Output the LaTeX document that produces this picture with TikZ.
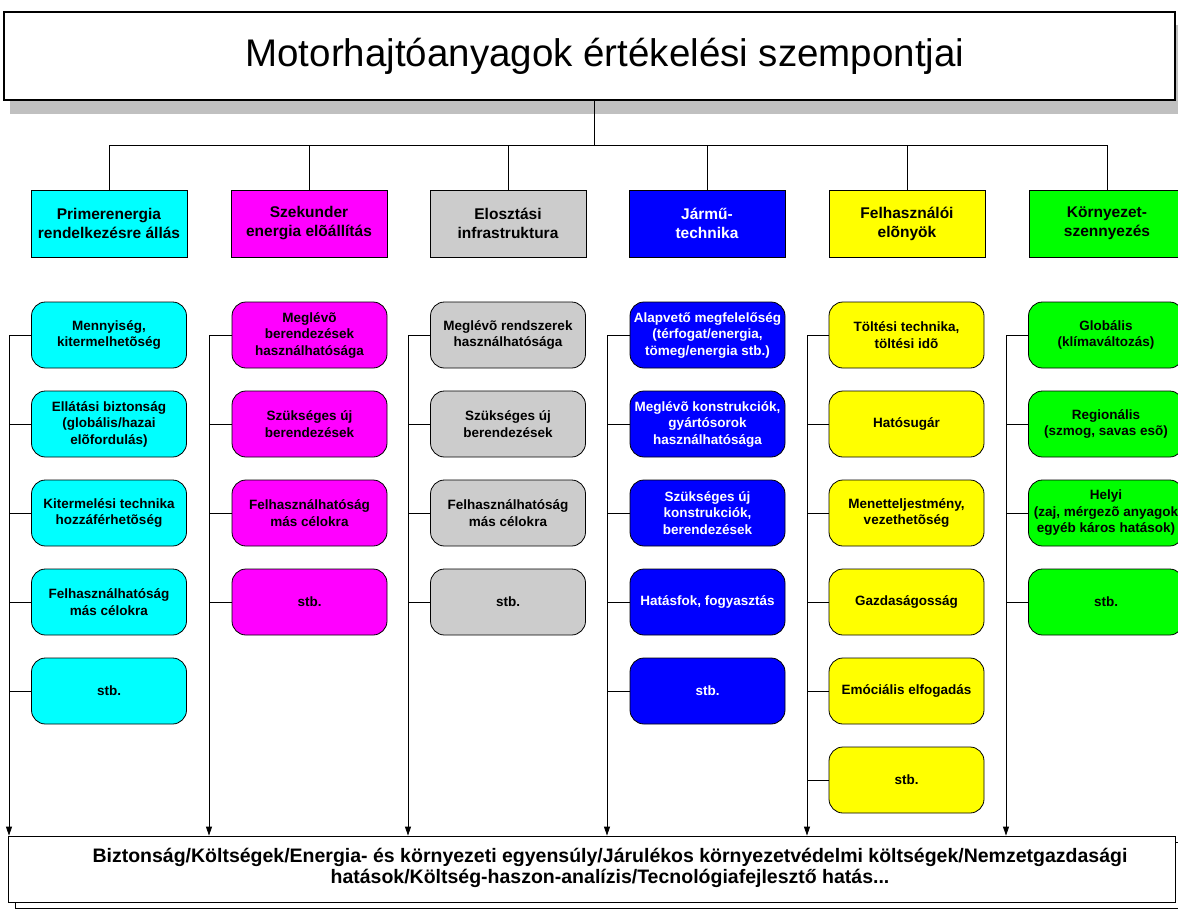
\documentclass[tikz,border=0pt]{standalone}
\usepackage{fontspec}
\setmainfont{Liberation Sans}
\usetikzlibrary{arrows.meta}
\definecolor{cCyan}{HTML}{00FFFF}
\definecolor{cMag}{HTML}{FF00FF}
\definecolor{cGray}{HTML}{CCCCCC}
\definecolor{cBlue}{HTML}{0000FF}
\definecolor{cYel}{HTML}{FFFF00}
\definecolor{cGreen}{HTML}{00FF00}
\definecolor{cShadow}{HTML}{C0C0C0}
\begin{document}
\begin{tikzpicture}[x=1pt,y=-1pt,
  catbox/.style={draw=black, line width=0.8pt, minimum width=156pt, minimum height=67pt, inner sep=0pt, align=center, font=\fontsize{15.5}{19}\selectfont\bfseries},
  subbox/.style={draw=black, line width=0.8pt, rounded corners=14pt, minimum width=155pt, minimum height=66pt, inner sep=0pt, align=center, font=\fontsize{13.5}{16.5}\selectfont\bfseries},
  conn/.style={line width=0.8pt, draw=black},
  arr/.style={conn, -{Triangle[width=6pt,length=9pt]}}
]
\useasboundingbox (0,0) rectangle (1178,911);
\begin{scope}
\clip (0,0) rectangle (1178,911);
% title
\fill[cShadow] (10,25) rectangle (1190,114);
\node[draw=black, fill=white, line width=1.2pt, minimum width=1171pt, minimum height=88pt, inner sep=0pt] (title) at (589.5,56) {};
\node[inner sep=0pt, font=\fontsize{38.5}{44}\selectfont] (titletext) at (605,56) {Motorhajtóanyagok értékelési szempontjai};
\coordinate (bus) at (594,145);

% categories
\node[catbox, fill=cCyan]  (c1) at (109,223.5) {Primerenergia\\rendelkezésre állás};
\node[catbox, fill=cMag]   (c2) at (309,223.5) {Szekunder\\energia elõállítás};
\node[catbox, fill=cGray]  (c3) at (508,223.5) {Elosztási\\infrastruktura};
\node[catbox, fill=cBlue, text=white] (c4) at (707,223.5) {Jármű-\\technika};
\node[catbox, fill=cYel]   (c5) at (907,223.5) {Felhasználói\\elõnyök};
\node[catbox, fill=cGreen] (c6) at (1107,223.5) {Környezet-\\szennyezés};

\draw[conn] (title.south -| bus) -- (bus);
\foreach \c in {c1,c2,c3,c4,c5,c6}{
  \draw[conn] (\c.north) -- (\c.north |- bus);
}
\draw[conn] (c1.north |- bus) -- (c6.north |- bus);

% column 1
\node[subbox, fill=cCyan] (s11) at (109,335) {Mennyiség,\\kitermelhetõség};
\node[subbox, fill=cCyan] (s12) at (109,424) {Ellátási biztonság\\(globális/hazai\\elõfordulás)};
\node[subbox, fill=cCyan] (s13) at (109,513) {Kitermelési technika\\hozzáférhetõség};
\node[subbox, fill=cCyan] (s14) at (109,602) {Felhasználhatóság\\más célokra};
\node[subbox, fill=cCyan] (s15) at (109,691) {stb.};
% column 2
\node[subbox, fill=cMag] (s21) at (309.5,335) {Meglévõ\\berendezések\\használhatósága};
\node[subbox, fill=cMag] (s22) at (309.5,424) {Szükséges új\\berendezések};
\node[subbox, fill=cMag] (s23) at (309.5,513) {Felhasználhatóság\\más célokra};
\node[subbox, fill=cMag] (s24) at (309.5,602) {stb.};
% column 3
\node[subbox, fill=cGray] (s31) at (508,335) {Meglévõ rendszerek\\használhatósága};
\node[subbox, fill=cGray] (s32) at (508,424) {Szükséges új\\berendezések};
\node[subbox, fill=cGray] (s33) at (508,513) {Felhasználhatóság\\más célokra};
\node[subbox, fill=cGray] (s34) at (508,602) {stb.};
% column 4
\node[subbox, fill=cBlue, text=white] (s41) at (707.5,335) {Alapvető megfelelőség\\(térfogat/energia,\\tömeg/energia stb.)};
\node[subbox, fill=cBlue, text=white] (s42) at (707.5,424) {Meglévõ konstrukciók,\\gyártósorok\\használhatósága};
\node[subbox, fill=cBlue, text=white] (s43) at (707.5,513) {Szükséges új\\konstrukciók,\\berendezések};
\node[subbox, fill=cBlue, text=white] (s44) at (707.5,602) {Hatásfok, fogyasztás};
\node[subbox, fill=cBlue, text=white] (s45) at (707.5,691) {stb.};
% column 5
\node[subbox, fill=cYel] (s51) at (906.5,335) {Töltési technika,\\töltési idõ};
\node[subbox, fill=cYel] (s52) at (906.5,424) {Hatósugár};
\node[subbox, fill=cYel] (s53) at (906.5,513) {Menetteljestmény,\\vezethetõség};
\node[subbox, fill=cYel] (s54) at (906.5,602) {Gazdaságosság};
\node[subbox, fill=cYel] (s55) at (906.5,691) {Emóciális elfogadás};
\node[subbox, fill=cYel] (s56) at (906.5,780) {stb.};
% column 6
\node[subbox, fill=cGreen] (s61) at (1106,335) {Globális\\(klímaváltozás)};
\node[subbox, fill=cGreen] (s62) at (1106,424) {Regionális\\(szmog, savas esõ)};
\node[subbox, fill=cGreen] (s63) at (1106,513) {Helyi\\(zaj, mérgezõ anyagok\\egyéb káros hatások)};
\node[subbox, fill=cGreen] (s64) at (1106,602) {stb.};

% bottom box
\draw[line width=0.8pt, fill=white] (15,842) rectangle (1190,908);
\node[draw=black, fill=white, line width=0.8pt, minimum width=1167pt, minimum height=66pt, inner sep=0pt] (bottom) at (591.5,869) {};
\node[align=center, font=\fontsize{19.5}{21.5}\selectfont\bfseries, inner sep=0pt] (btext) at (610,868)
  {Biztonság/Költségek/Energia- és környezeti egyensúly/Járulékos környezetvédelmi költségek/Nemzetgazdasági\\hatások/Költség-haszon-analízis/Tecnológiafejlesztő hatás...};

% vertical collectors
\coordinate (v1) at (9,335);
\coordinate (v2) at (209,335);
\coordinate (v3) at (408,335);
\coordinate (v4) at (607,335);
\coordinate (v5) at (807,335);
\coordinate (v6) at (1006,335);
\foreach \v in {v1,v2,v3,v4,v5,v6}{
  \draw[arr] (\v) -- (\v |- bottom.north);
}
\foreach \s/\v in {s11/v1,s12/v1,s13/v1,s14/v1,s15/v1,
                   s21/v2,s22/v2,s23/v2,s24/v2,
                   s31/v3,s32/v3,s33/v3,s34/v3,
                   s41/v4,s42/v4,s43/v4,s44/v4,s45/v4,
                   s51/v5,s52/v5,s53/v5,s54/v5,s55/v5,s56/v5,
                   s61/v6,s62/v6,s63/v6,s64/v6}{
  \draw[conn] (\s.west) -- (\s.west -| \v);
}
\end{scope}
\end{tikzpicture}
\end{document}
